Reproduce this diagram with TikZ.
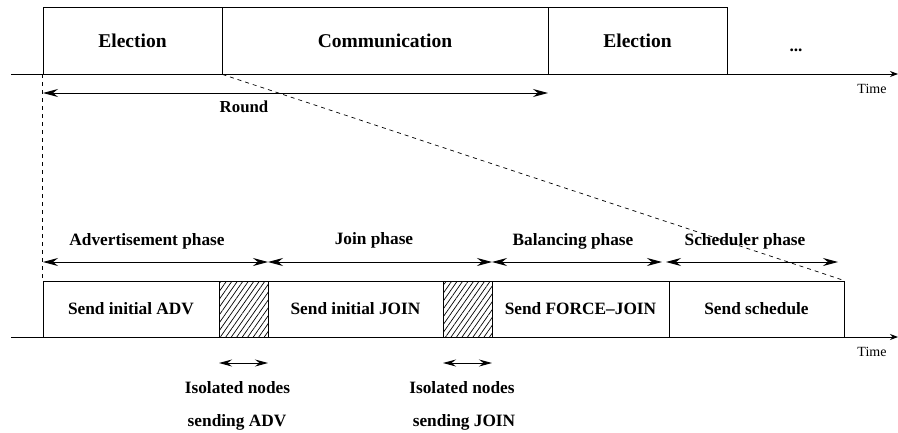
\documentclass[tikz,border=0pt]{standalone}
\usepackage{fontspec}
\setmainfont{Liberation Serif}
\usetikzlibrary{arrows.meta,patterns.meta}
\tikzset{
  box/.style={draw,line width=0.8pt,inner sep=0pt,font=\fontsize{19.5}{22}\selectfont\bfseries},
  lbox/.style={draw,line width=0.8pt,inner sep=0pt,minimum height=56pt,font=\fontsize{17.3}{20}\selectfont\bfseries},
  hatch/.style={draw,line width=0.8pt,inner sep=0pt,minimum height=56pt,minimum width=49pt,
     pattern={Lines[angle=55,distance=4.5pt,line width=0.7pt]}},
  lbl/.style={inner sep=0pt,font=\fontsize{17.3}{20}\selectfont\bfseries},
  timelbl/.style={inner sep=0pt,font=\fontsize{14}{16}\selectfont},
  axis/.style={line width=0.8pt,-{Stealth[length=8pt,width=6pt]}},
  twoarr/.style={line width=0.9pt,{Stealth[length=15pt,width=8pt,inset=5pt]}-{Stealth[length=15pt,width=8pt,inset=5pt]}},
  smallarr/.style={line width=0.9pt,{Stealth[length=13pt,width=7pt,inset=4.5pt]}-{Stealth[length=13pt,width=7pt,inset=4.5pt]}},
  zoomline/.style={line width=0.7pt,dash pattern=on 4pt off 4pt}
}
\begin{document}
\begin{tikzpicture}[x=1pt,y=-1pt]
\useasboundingbox (0,0) rectangle (898,432);
% top row
\node[box,minimum width=179pt,minimum height=67pt] (e1) at (132.5,40.5) {Election};
\node[box,minimum width=326pt,minimum height=67pt] (c1) at (385,40.5) {Communication};
\node[box,minimum width=179pt,minimum height=67pt] (e2) at (637.5,40.5) {Election};
\node[lbl] (dots) at (796,50) {...};
\coordinate (ta0) at (11,74);
\coordinate (ta1) at (898,74);
\draw[axis] (ta0) -- (ta1);
\node[timelbl] (time1) at (872,89) {Time};
% round
\coordinate (r0) at (43,93);
\coordinate (r1) at (548,93);
\draw[twoarr] (r0) -- (r1);
\node[lbl,font=\fontsize{16.8}{19}\selectfont\bfseries] (round) at (244,107) {Round};
% lower row
\node[lbox,minimum width=176pt] (s1) at (131,309) {Send initial ADV};
\node[hatch] (h1) at (243.5,309) {};
\node[lbox,minimum width=175pt] (s2) at (355.5,309) {Send initial JOIN};
\node[hatch] (h2) at (467.5,309) {};
\node[lbox,minimum width=177pt] (s3) at (580.5,309) {Send FORCE--JOIN};
\node[lbox,minimum width=175pt] (s4) at (756.5,309) {Send schedule};
\coordinate (tb0) at (11,337);
\coordinate (tb1) at (898,337);
\draw[axis] (tb0) -- (tb1);
\node[timelbl] (time2) at (872,352) {Time};
% dashed zoom lines
\draw[zoomline] (e1.south west) -- (s1.north west);
\draw[zoomline] (e1.south east) -- (s4.north east);
% phases
\coordinate (p0) at (43,262);
\coordinate (p1) at (268,262);
\coordinate (p2) at (492,262);
\coordinate (p3) at (662,262);
\coordinate (p4) at (666,262);
\coordinate (p5) at (838,262);
\draw[twoarr] (p0) -- (p1);
\draw[twoarr] (p1) -- (p2);
\draw[twoarr] (p2) -- (p3);
\draw[twoarr] (p4) -- (p5);
\node[lbl] (ph1) at (147,241) {Advertisement phase};
\node[lbl] (ph2) at (374,240) {Join phase};
\node[lbl] (ph3) at (573,241) {Balancing phase};
\node[lbl] (ph4) at (745,241) {Scheduler phase};
% isolated
\coordinate (i0) at (219,363);
\coordinate (i1) at (268,363);
\coordinate (j0) at (443,363);
\coordinate (j1) at (492,363);
\draw[smallarr] (i0) -- (i1);
\draw[smallarr] (j0) -- (j1);
\node[lbl] (iso1) at (237.5,388) {Isolated nodes};
\node[lbl] (snd1) at (237,422) {sending ADV};
\node[lbl] (iso2) at (462,388) {Isolated nodes};
\node[lbl] (snd2) at (464,422) {sending JOIN};
\end{tikzpicture}
\end{document}
